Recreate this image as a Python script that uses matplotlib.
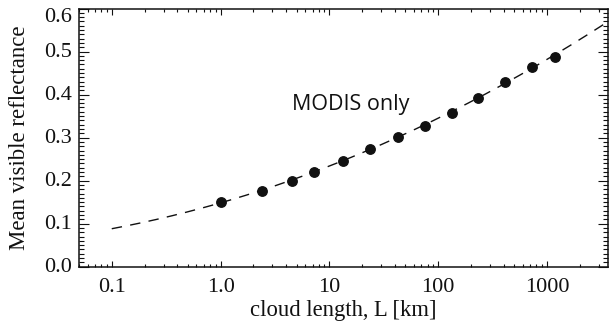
import numpy as np
import matplotlib
matplotlib.use("Agg")
import matplotlib.pyplot as plt
import matplotlib.transforms as mtransforms
from matplotlib.ticker import FixedLocator, MultipleLocator, LogLocator, NullFormatter

# ---- data ----
cloud_length_km = [1.0, 2.38, 4.5, 7.2, 13.3, 23.5, 42.5, 75, 133, 231, 410, 726, 1183]
mean_reflectance = [0.151, 0.175, 0.199, 0.221, 0.2465, 0.274, 0.302, 0.327,
                    0.358, 0.393, 0.430, 0.464, 0.488]
fit_range_km = [0.1, 3600]
x_ticks = [0.1, 1.0, 10, 100, 1000]
x_tick_labels = ["0.1", "1.0", "10", "100", "1000"]
y_ticks = [0.0, 0.1, 0.2, 0.3, 0.4, 0.5, 0.6]
y_tick_labels = ["0.0", "0.1", "0.2", "0.3", "0.4", "0.5", "0.6"]
annotation = "MODIS only"

serif = ["Liberation Serif", "DejaVu Serif"]
ink = "#111111"

fig = plt.figure(figsize=(6.1, 3.3), dpi=100)
ax = fig.add_axes([79 / 610, 1 - 266.7 / 330, (607.5 - 79) / 610, (266.7 - 8.5) / 330])

# quadratic fit in log10(L) through the points, drawn dashed
u = np.log10(cloud_length_km)
coef = np.polyfit(u, mean_reflectance, 2)
xf = np.logspace(np.log10(fit_range_km[0]), np.log10(fit_range_km[1]), 200)
ax.plot(xf, np.polyval(coef, np.log10(xf)), color=ink, lw=1.0,
        linestyle=(0, (7.5, 6.0)), zorder=2)
ax.plot(cloud_length_km, mean_reflectance, "o", color=ink, ms=6.8, zorder=3)

ax.set_xscale("log")
ax.set_xlim(0.05, 3600)
ax.set_ylim(0.0, 0.6)

ax.xaxis.set_major_locator(FixedLocator(x_ticks))
ax.set_xticklabels(x_tick_labels)
ax.xaxis.set_minor_locator(LogLocator(base=10, subs=np.arange(2, 10)))
ax.xaxis.set_minor_formatter(NullFormatter())
ax.yaxis.set_major_locator(FixedLocator(y_ticks))
ax.set_yticklabels(y_tick_labels)
ax.yaxis.set_minor_locator(MultipleLocator(0.01))

ax.tick_params(axis="both", which="both", direction="in", top=True, right=True,
               width=0.8, colors=ink)
ax.tick_params(axis="x", which="major", length=4.0, pad=8)
ax.tick_params(axis="x", which="minor", length=2.2)
ax.tick_params(axis="y", which="major", length=7.5, pad=5)
ax.tick_params(axis="y", which="minor", length=3.6)
for lab in ax.get_xticklabels() + ax.get_yticklabels():
    lab.set_fontfamily(serif)
    lab.set_fontsize(16)
    lab.set_color(ink)
for s in ax.spines.values():
    s.set_linewidth(1.1)
    s.set_color(ink)

# y tick labels sit slightly above their ticks; the top one is pushed inside
ylabs = ax.get_yticklabels()
for i, lab in enumerate(ylabs):
    dy = 2 if i < len(ylabs) - 1 else -7
    lab.set_transform(lab.get_transform() +
                      mtransforms.ScaledTranslation(0, dy / 100, fig.dpi_scale_trans))

ax.set_xlabel("cloud length, L [km]", fontfamily=serif, fontsize=16.3,
              color=ink, labelpad=2)
ax.set_ylabel("Mean visible reflectance", fontfamily=serif, fontsize=16.5,
              color=ink, labelpad=10)

ax.text(15.7, 0.364, annotation, ha="center", va="baseline",
        fontfamily=["Open Sans", "DejaVu Sans"], fontsize=15.5, color=ink)

fig.savefig("out.png", dpi=100)
